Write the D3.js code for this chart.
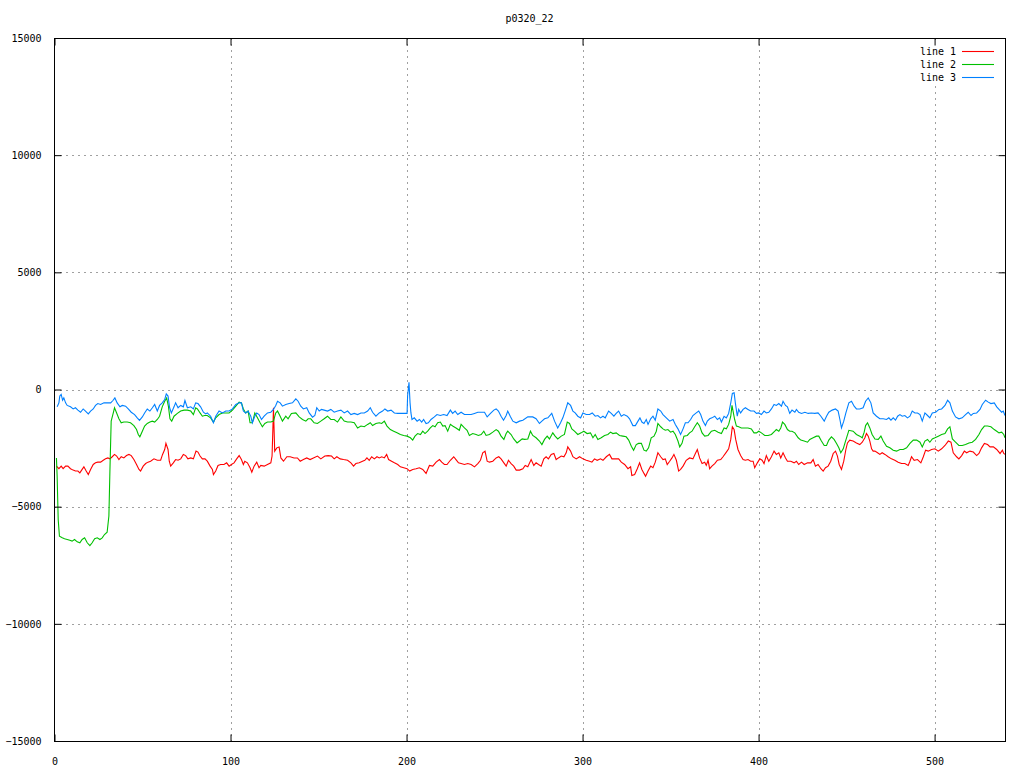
<!DOCTYPE html>
<html><head><meta charset="utf-8">
<script src="https://cdn.jsdelivr.net/npm/d3@7"></script>
<style>html,body{margin:0;padding:0;background:#fff;}svg{display:block;}</style>
</head><body>
<svg id="chart" width="1024" height="768"></svg>
<script>
const title = "p0320_22";
const seriesNames = ["line 1", "line 2", "line 3"];
const seriesColors = ["#ff0000", "#00c000", "#0080ff"];
const xTicks = [0, 100, 200, 300, 400, 500];
const yTicks = [-15000, -10000, -5000, 0, 5000, 10000, 15000];
const xDomain = [0, 540];
const yDomain = [-15000, 15000];

// line 1 (red)
const line1X = [1.1,2.5,3.8,4.9,6.3,7.6,9.1,10.6,11.9,13.3,14.4,15.7,16.7,18.0,19.2,20.5,22.0,23.3,24.6,26.2,27.7,29.0,30.3,31.5,32.8,34.1,35.3,36.6,37.9,39.4,40.9,42.3,43.6,45.1,46.6,48.0,48.9,50.4,51.8,53.1,54.6,56.5,58.4,60.3,61.4,62.6,63.3,64.5,65.2,66.0,67.5,68.8,70.2,71.7,73.2,74.5,75.8,77.4,78.9,80.4,81.5,82.7,84.0,85.5,
86.8,88.4,89.7,90.3,91.6,92.9,94.4,96.3,97.8,99.2,100.5,102.0,103.5,104.9,106.2,107.3,108.1,109.6,111.1,112.1,113.4,114.9,116.2,117.2,119.1,121.0,122.9,123.6,124.0,124.4,124.8,125.1,126.3,127.6,128.6,130.1,132.0,133.9,136.1,138.0,139.6,141.4,143.3,145.2,147.1,149.4,151.3,153.6,155.5,157.4,158.9,160.4,162.3,164.2,166.5,168.4,169.9,171.2,173.1,175.0,176.3,
177.5,178.8,180.2,181.7,183.2,184.5,185.9,187.4,188.7,189.8,191.5,193.1,195.0,196.5,198.4,200.3,201.8,203.5,205.4,207.3,209.2,211.1,213.0,214.9,216.8,218.7,220.0,221.5,223.0,224.9,226.8,228.1,229.5,231.0,232.9,234.8,236.7,238.6,240.5,242.0,243.3,244.6,245.8,247.1,249.0,250.9,252.4,253.7,255.3,256.6,257.9,259.4,260.9,262.3,264.2,266.1,267.4,
268.9,270.8,272.3,273.6,275.0,276.5,278.0,279.3,280.6,282.2,283.7,285.0,286.3,287.9,289.4,290.7,291.6,293.2,294.5,296.4,298.3,300.2,302.1,304.0,305.3,306.8,308.3,310.2,311.6,313.5,315.3,316.7,318.6,320.5,322.0,323.9,325.8,327.3,328.0,329.6,331.1,332.4,333.7,334.9,335.8,337.2,338.7,340.0,341.3,342.8,344.4,345.7,347.0,348.1,349.5,350.8,351.9,353.3,354.6,355.7,357.1,
358.9,360.8,362.7,364.1,365.2,366.5,367.9,369.4,370.3,371.3,372.2,373.5,375.1,376.6,378.5,379.8,381.7,383.0,384.2,385.1,386.1,387.0,388.3,389.8,391.2,392.5,394.0,395.5,396.9,397.8,399.3,400.7,402.0,403.1,404.4,405.8,407.3,408.8,410.1,411.5,412.6,413.9,415.3,416.4,418.3,420.2,421.5,422.8,424.4,425.9,427.8,429.7,431.0,432.3,433.8,435.4,436.7,438.0,439.5,441.0,442.4,443.7,444.8,445.8,447.1,448.4,449.6,
450.5,451.8,453.7,455.6,457.5,458.9,460.4,461.3,462.3,463.2,464.2,465.1,466.1,467.6,468.9,470.2,471.8,473.6,475.5,477.4,479.3,481.2,483.1,485.0,486.0,486.9,488.4,490.3,492.2,493.6,494.9,496.4,498.3,500.2,502.1,504.0,505.9,507.8,509.3,510.6,512.5,513.8,515.4,516.9,518.2,520.1,522.0,523.9,525.2,526.7,528.3,530.1,531.5,533.4,535.3,537.2,538.5,539.3,540.0];
const line1Y = [-3270,-3380,-3270,-3380,-3270,-3270,-3380,-3440,-3480,-3480,-3560,-3410,-3300,-3480,-3630,-3410,-3200,-3130,-3100,-3100,-3020,-2960,-2920,-2960,-2870,-2770,-2840,-2990,-2870,-2920,-2820,-2770,-2820,-2990,-3200,-3410,-3480,-3270,-3160,-3100,-3060,-2960,-3020,-3020,-2770,-2560,-2300,-2560,-3060,-3270,-3130,-2990,-3020,-2960,-2770,-2820,-2960,-2920,-2960,-2630,-2670,-2840,-2960,-2960,
-3060,-3270,-3410,-3630,-3480,-3240,-3200,-3200,-3130,-3270,-3200,-3130,-2960,-2820,-2990,-3200,-3060,-3130,-3340,-3530,-3270,-3100,-3340,-3240,-3270,-3200,-3130,-2840,-1850,-780,-1850,-2630,-2490,-2450,-2920,-3060,-2870,-2870,-2920,-2920,-3060,-2990,-2920,-2990,-2920,-2840,-2960,-2840,-2820,-2840,-2960,-2870,-2960,-2990,-3020,-3130,-3270,-3160,-3130,-3060,-3020,
-2920,-3020,-2870,-2960,-2870,-2920,-2870,-2920,-2770,-2990,-3060,-3130,-3200,-3300,-3340,-3380,-3480,-3410,-3380,-3340,-3410,-3580,-3240,-3270,-3100,-2990,-3100,-3200,-3200,-3020,-2870,-2990,-3130,-3160,-3200,-3160,-3200,-3300,-3160,-3020,-2700,-2630,-3060,-3100,-3060,-2920,-2870,-2960,-3130,-3270,-3020,-3160,-3270,-3440,-3440,-3380,-3240,
-3300,-2990,-3240,-3130,-3200,-3270,-2960,-2870,-2960,-2770,-2730,-2990,-2920,-2840,-2870,-2700,-2450,-2630,-2870,-2960,-2870,-2960,-3020,-3060,-3100,-2960,-3020,-2960,-3020,-2870,-2770,-2960,-2960,-2960,-3100,-3200,-3380,-3300,-3670,-3630,-3380,-3130,-3410,-3580,-3700,-3480,-3270,-3340,-3100,-2700,-2870,-2990,-2960,-3200,-3060,-2920,-2770,-3020,-3480,-3410,-3270,
-3020,-2920,-2960,-2730,-2560,-2920,-3160,-3100,-3240,-3020,-3380,-3270,-3160,-3020,-2990,-2870,-2670,-2530,-2130,-1590,-1710,-2130,-2560,-2820,-2990,-3020,-2990,-3060,-3060,-3340,-3130,-2960,-3020,-3160,-2820,-3060,-2870,-2630,-2770,-2700,-2920,-2700,-2920,-3060,-3060,-3130,-3060,-3200,-3100,-3200,-3130,-3130,-2990,-3270,-3200,-3380,-3480,-3340,-3270,-3060,-2730,-2630,-2840,-3200,-3410,-3060,-2560,
-2280,-2160,-2200,-2280,-2350,-2250,-2060,-1880,-1990,-2200,-2530,-2630,-2630,-2700,-2770,-2700,-2770,-2870,-2960,-3020,-3100,-3160,-3160,-3240,-3060,-2870,-3020,-2990,-3130,-2870,-2590,-2630,-2560,-2530,-2630,-2530,-2390,-2200,-2250,-2700,-2870,-2960,-2820,-2630,-2700,-2630,-2670,-2820,-2730,-2490,-2300,-2350,-2450,-2450,-2560,-2730,-2590,-2730,-2770];

// line 2 (green)
const line2X = [1.1,1.5,2.1,2.8,4.4,5.7,7.2,8.7,10.0,11.4,12.9,14.4,15.7,17.1,18.6,20.1,21.4,22.8,24.3,25.8,27.1,28.4,29.9,30.9,31.5,32.2,33.4,34.1,35.3,36.6,37.9,39.4,41.3,43.2,45.1,46.6,47.6,48.5,49.9,51.2,52.7,54.2,55.6,56.9,58.4,59.7,61.2,62.6,63.7,64.7,65.6,66.6,67.9,69.8,71.7,73.6,75.5,77.4,78.9,80.2,81.2,82.7,84.0,85.3,
86.8,88.7,90.3,91.6,93.5,95.4,97.3,99.2,101.1,103.0,104.9,106.2,107.3,108.6,110.0,111.1,112.4,113.8,115.3,116.8,118.1,119.5,121.0,122.9,124.4,125.7,126.7,128.2,129.5,131.4,132.7,134.6,137.1,139.0,140.9,142.8,144.1,145.6,147.5,149.4,151.3,153.2,155.1,157.0,158.9,160.8,162.7,164.6,166.5,168.4,170.3,172.2,174.1,176.0,
177.9,179.4,180.7,182.6,184.5,185.9,187.4,188.9,190.8,192.7,194.6,196.5,198.4,200.3,202.2,203.5,204.8,206.3,207.9,209.2,210.5,212.0,213.5,214.9,216.2,217.7,219.2,220.6,221.9,223.4,224.9,226.2,228.1,230.0,231.0,232.9,234.4,235.7,237.6,239.5,240.8,242.4,243.9,245.2,247.1,249.0,250.9,252.2,253.7,255.3,256.6,257.5,259.4,260.9,262.8,264.2,265.7,267.0,
268.9,270.4,271.7,273.6,275.5,276.9,278.4,279.9,281.2,283.1,284.4,285.9,287.9,289.7,291.3,292.6,293.9,295.4,297.3,299.2,300.7,302.6,304.5,305.9,307.2,308.7,310.6,312.5,314.4,315.9,317.2,319.1,321.0,322.9,324.8,326.2,327.7,329.0,330.5,331.8,333.4,334.9,336.2,337.5,339.0,340.6,341.9,342.8,344.4,345.7,347.0,348.5,350.0,351.4,352.7,354.2,355.2,356.5,357.6,
359.5,360.8,362.2,363.7,365.2,366.5,367.9,369.4,371.3,373.2,375.1,377.0,378.9,380.4,381.7,383.0,384.2,384.9,385.5,386.4,387.4,388.7,390.2,392.1,394.0,395.9,397.4,398.8,400.1,401.6,403.5,405.4,407.3,409.2,410.1,411.5,412.6,413.6,414.9,416.4,417.7,419.0,420.6,422.5,424.0,425.9,427.8,429.1,431.0,432.9,434.2,435.7,437.3,438.6,439.9,441.4,442.9,444.3,445.6,446.7,448.1,449.4,
451.3,453.7,455.6,457.5,458.9,460.0,460.8,461.9,463.2,464.5,466.1,468.0,469.5,470.8,472.7,474.6,476.5,478.4,480.3,482.2,484.1,486.0,487.9,489.8,491.7,493.0,494.5,496.0,497.3,498.7,500.2,502.1,504.0,505.9,507.4,508.7,510.1,511.9,513.8,515.7,517.6,519.5,521.4,523.3,525.2,526.7,528.3,530.1,532.0,533.9,535.3,536.6,538.1,539.3,540.0];
const line2Y = [-2920,-3700,-5550,-6260,-6330,-6370,-6400,-6430,-6470,-6400,-6500,-6540,-6400,-6330,-6540,-6660,-6540,-6370,-6330,-6400,-6330,-6190,-6090,-5400,-3410,-1350,-1000,-780,-1000,-1250,-1420,-1390,-1390,-1420,-1540,-1710,-1920,-2020,-1780,-1560,-1450,-1390,-1350,-1390,-1280,-1140,-740,-500,-360,-710,-1250,-1350,-1140,-1020,-920,-880,-880,-920,-1070,-780,-830,-1000,-1140,-1110,
-1110,-1210,-1390,-1210,-1070,-1000,-1000,-1000,-880,-710,-540,-570,-830,-1000,-920,-1420,-1420,-1000,-1210,-1420,-1590,-1450,-1390,-1390,-1350,-1000,-920,-1140,-1350,-1140,-1250,-1020,-1000,-1170,-1280,-1350,-1250,-1250,-1420,-1450,-1350,-1250,-1140,-1280,-1280,-1390,-1170,-1350,-1390,-1390,-1420,-1640,-1560,-1590,
-1490,-1420,-1540,-1450,-1420,-1450,-1350,-1560,-1710,-1780,-1850,-1920,-1960,-1990,-2060,-2160,-1990,-1880,-1920,-1780,-1880,-1780,-1640,-1540,-1590,-1420,-1390,-1560,-1540,-1780,-1490,-1560,-1640,-1740,-1490,-1640,-1740,-1960,-1880,-1920,-1960,-1920,-1780,-1960,-1920,-1820,-1710,-1780,-1990,-2130,-1880,-1780,-1920,-2110,-2280,-2200,-2110,-2130,
-2110,-1780,-1960,-2060,-2200,-2350,-2130,-1990,-2110,-1850,-1990,-2110,-1990,-1920,-1390,-1450,-1680,-1780,-1920,-1850,-1780,-1880,-1850,-2060,-1920,-2130,-2060,-1960,-1920,-1820,-1880,-1850,-1960,-1990,-2020,-2160,-2420,-2590,-2350,-2300,-2300,-2590,-2630,-2490,-2060,-1990,-1780,-1450,-1590,-1680,-1740,-1710,-1820,-1780,-1920,-2200,-2450,-2300,-1990,
-1960,-1850,-1780,-1590,-1420,-1560,-1850,-1990,-1960,-1780,-1740,-1820,-1880,-1640,-1680,-1490,-1140,-680,-920,-1280,-1560,-1590,-1640,-1640,-1640,-1680,-1850,-1850,-1780,-1850,-1960,-1960,-1920,-1780,-1710,-1780,-1640,-1390,-1490,-1710,-1780,-1780,-1850,-2060,-2160,-2200,-2250,-2130,-2060,-1990,-1990,-2200,-2390,-2390,-2160,-2020,-2130,-2300,-2490,-2700,-2530,-2200,
-1740,-1780,-1920,-1990,-2060,-1820,-1540,-1420,-1640,-1920,-2110,-2130,-1990,-2200,-2420,-2490,-2590,-2630,-2560,-2560,-2490,-2300,-2160,-2160,-2250,-2450,-2200,-2130,-2250,-2110,-2060,-1990,-1920,-1880,-1680,-1590,-2110,-2250,-2390,-2390,-2350,-2280,-2250,-2130,-1920,-1710,-1560,-1560,-1590,-1710,-1780,-1850,-1820,-1920,-2060];

// line 3 (blue)
const line3X = [1.5,2.5,3.0,3.8,4.6,5.3,6.3,7.2,9.1,10.6,11.9,13.3,14.8,16.3,17.6,19.2,20.5,22.0,23.3,24.6,26.2,28.1,30.0,31.9,33.2,34.3,35.6,37.2,38.5,40.4,41.9,43.6,45.5,47.0,48.3,49.9,51.2,52.7,54.2,55.6,56.9,58.4,59.7,61.2,62.6,63.5,64.5,65.4,66.4,67.9,68.8,70.2,71.7,73.2,74.1,75.5,77.4,78.9,80.2,81.5,83.0,84.6,85.9,
86.8,88.7,90.3,91.6,93.5,95.4,97.3,99.2,101.1,103.0,104.9,106.2,107.3,108.6,110.0,111.5,112.4,113.8,114.9,116.2,117.6,119.1,121.0,122.9,124.4,125.7,126.7,128.2,129.5,131.4,133.3,135.2,137.1,138.4,139.9,141.4,143.3,144.7,146.6,147.9,149.0,150.4,151.7,153.2,155.1,157.0,158.9,160.8,162.7,164.6,166.5,168.4,170.3,172.2,174.1,176.0,
177.9,179.4,180.7,182.6,184.5,186.4,187.7,189.3,191.2,193.1,195.0,196.9,198.7,200.3,200.6,201.4,202.0,202.5,203.1,204.4,206.0,207.3,208.6,209.7,211.1,212.4,213.9,215.8,217.3,219.2,221.1,223.0,224.9,226.2,227.6,229.1,231.0,232.9,234.8,236.7,238.6,240.5,242.4,244.3,245.8,247.7,249.6,250.9,252.2,253.7,255.1,256.6,257.5,258.9,260.4,262.3,264.2,266.1,
268.9,271.7,273.6,275.5,276.9,278.4,280.3,282.5,284.1,285.9,287.5,288.8,290.1,291.6,293.2,294.5,295.8,297.3,298.9,300.2,302.1,304.0,305.5,307.2,308.7,310.2,311.6,312.9,314.8,316.3,317.8,319.1,320.5,322.0,323.5,325.4,326.7,328.6,330.0,331.5,332.6,333.7,334.9,336.2,337.2,338.7,340.0,341.3,342.8,344.4,345.7,347.6,349.5,351.4,352.7,354.2,355.7,357.1,358.4,
359.9,361.4,362.7,364.6,366.0,367.1,368.4,369.8,370.9,372.2,373.5,375.1,376.6,377.9,378.9,380.4,381.7,383.0,384.2,385.1,386.1,386.8,387.9,388.7,389.8,391.2,392.5,394.0,395.5,397.4,398.8,400.1,401.6,403.1,404.4,405.8,407.3,408.8,410.1,411.5,413.0,413.9,415.3,416.4,417.7,419.0,420.6,421.5,422.8,424.4,426.3,428.2,430.0,431.9,433.8,435.4,437.3,438.6,439.9,441.8,443.7,445.2,446.2,447.1,448.4,449.6,
451.3,452.8,454.3,455.6,457.5,459.4,460.8,462.3,463.8,465.1,467.0,468.9,470.8,472.7,474.0,475.2,476.5,477.8,479.0,480.3,481.6,483.1,484.6,486.0,487.3,488.8,490.3,491.7,493.0,494.5,496.0,497.3,498.7,500.6,502.5,504.0,505.9,507.4,508.7,510.1,511.9,513.8,515.7,517.6,519.1,520.7,522.0,523.9,525.8,527.1,529.0,530.5,532.0,533.9,535.3,536.6,538.1,539.0,540.0];
const line3Y = [-740,-570,-280,-210,-460,-360,-570,-680,-740,-830,-780,-880,-970,-830,-920,-1040,-920,-830,-680,-600,-640,-570,-570,-570,-470,-360,-570,-740,-680,-710,-830,-970,-1070,-1210,-1320,-1170,-1000,-830,-920,-780,-640,-920,-680,-570,-430,-190,-280,-780,-1000,-740,-570,-780,-680,-740,-470,-780,-740,-830,-570,-600,-740,-970,-1040,
-1000,-1140,-1420,-1140,-920,-1000,-920,-920,-830,-640,-570,-570,-920,-1000,-920,-1140,-1420,-1140,-1000,-1070,-1280,-1140,-1000,-970,-850,-680,-500,-570,-710,-640,-600,-570,-400,-500,-710,-830,-780,-1000,-1180,-1110,-780,-920,-850,-880,-920,-850,-970,-920,-880,-1000,-920,-1070,-1020,-1070,-1000,-1000,
-920,-780,-970,-1140,-1000,-920,-830,-920,-880,-1000,-1020,-1020,-1020,-1020,-280,310,-570,-1000,-1280,-1210,-1350,-1280,-1390,-1280,-1450,-1420,-1280,-1170,-1070,-1110,-1070,-1110,-880,-1020,-920,-1070,-970,-1070,-1070,-1070,-1020,-970,-970,-970,-1170,-1020,-880,-830,-920,-1140,-1310,-1110,-920,-1140,-1350,-1420,-1350,-1310,
-1170,-1170,-1250,-1450,-1350,-1250,-1210,-1020,-1350,-1640,-1420,-1210,-920,-570,-680,-920,-1000,-1140,-1210,-1000,-1070,-1070,-1000,-1140,-1110,-1210,-1140,-1210,-920,-1020,-1140,-1020,-920,-1140,-1070,-1140,-1250,-1540,-1540,-1350,-1210,-1390,-1450,-1280,-1490,-1250,-1140,-1310,-830,-920,-1070,-1210,-1350,-1280,-1490,-1680,-1920,-1680,-1420,
-1420,-1280,-1110,-1000,-920,-1070,-1350,-1540,-1350,-1250,-1210,-1140,-1280,-1210,-1390,-1140,-1210,-1020,-570,-170,-140,-570,-1140,-850,-1000,-850,-780,-850,-920,-920,-1020,-1000,-1070,-920,-1000,-970,-830,-640,-680,-600,-710,-500,-680,-740,-1020,-880,-970,-850,-970,-1020,-970,-1020,-1000,-1020,-1000,-1140,-1350,-1140,-970,-880,-830,-920,-1280,-1640,-1350,-1000,
-570,-500,-710,-830,-830,-780,-500,-360,-570,-1000,-1140,-1250,-1250,-1280,-1210,-1310,-1210,-1310,-1140,-1070,-1140,-1110,-1210,-1140,-920,-1000,-1000,-1070,-1350,-1000,-1110,-1210,-1000,-970,-850,-830,-680,-460,-570,-920,-1170,-1250,-1210,-1070,-970,-1110,-1020,-1000,-850,-640,-460,-540,-600,-570,-740,-850,-970,-920,-1110];

const seriesX = [line1X, line2X, line3X];
const seriesY = [line1Y, line2Y, line3Y];

const svg = d3.select("#chart");
const W = 1024, H = 768;
const m = {left: 54, right: 1005, top: 38, bottom: 741};
const xs = d3.scaleLinear().domain(xDomain).range([m.left + 0.5, m.right]);
const ys = d3.scaleLinear().domain(yDomain).range([m.bottom, m.top]);
const font = "'DejaVu Sans Mono', monospace";

svg.append("rect").attr("width", W).attr("height", H).attr("fill", "#fff");

// grid
const grid = svg.append("g").attr("stroke", "#a0a0a0").attr("stroke-width", 1).attr("stroke-dasharray", "2,4");
xTicks.filter(t => t > xDomain[0] && t < xDomain[1]).forEach(t => {
  const px = Math.round(xs(t)) + 0.5;
  grid.append("line").attr("x1", px).attr("x2", px).attr("y1", m.top).attr("y2", m.bottom);
});
yTicks.filter(t => t > yDomain[0] && t < yDomain[1]).forEach(t => {
  const py = Math.round(ys(t)) + 0.5;
  grid.append("line").attr("x1", m.left).attr("x2", m.right).attr("y1", py).attr("y2", py);
});

// legend background (key area blanks the grid)
svg.append("rect").attr("x", 916).attr("y", 44).attr("width", 84).attr("height", 42).attr("fill", "#fff");

// data lines
const lineGen = d3.line().x(d => xs(d[0])).y(d => ys(d[1]));
seriesX.forEach((xa, i) => {
  const ya = seriesY[i];
  const n = Math.min(xa.length, ya.length);
  const pts = d3.range(n).map(j => [xa[j], ya[j]]);
  svg.append("path").datum(pts).attr("d", lineGen)
    .attr("fill", "none").attr("stroke", seriesColors[i]).attr("stroke-width", 1.1);
});

// axes with inward ticks on all four sides (gnuplot style)
const tl = 7;
const axL = svg.append("g").attr("transform", `translate(${m.left + 0.5},0)`)
  .call(d3.axisLeft(ys).tickValues(yTicks).tickSize(-tl).tickPadding(6 + tl).tickFormat(d3.format("d")));
const axR = svg.append("g").attr("transform", `translate(${m.right + 0.5},0)`)
  .call(d3.axisRight(ys).tickValues(yTicks).tickSize(-tl).tickFormat(""));
const axB = svg.append("g").attr("transform", `translate(0,${m.bottom + 0.5})`)
  .call(d3.axisBottom(xs).tickValues(xTicks).tickSize(-tl).tickPadding(9 + tl).tickFormat(d3.format("d")));
const axT = svg.append("g").attr("transform", `translate(0,${m.top + 0.5})`)
  .call(d3.axisTop(xs).tickValues(xTicks).tickSize(-tl).tickFormat(""));
[axL, axR, axB, axT].forEach(g => {
  g.selectAll(".domain").remove();
  g.selectAll(".tick line").attr("stroke", "#000");
  g.selectAll("text").attr("font-family", font).attr("font-size", 10).attr("fill", "#000");
});

// border
svg.append("rect").attr("x", m.left + 0.5).attr("y", m.top + 0.5)
  .attr("width", m.right - m.left).attr("height", m.bottom - m.top)
  .attr("fill", "none").attr("stroke", "#000").attr("stroke-width", 1);

// title
svg.append("text").attr("x", (m.left + m.right) / 2).attr("y", 22)
  .attr("text-anchor", "middle").attr("font-family", font).attr("font-size", 10)
  .text(title);

// legend
const leg = svg.append("g");
seriesNames.forEach((name, i) => {
  const ly = 51.5 + i * 13;
  leg.append("text").attr("x", 956).attr("y", ly + 3.5).attr("text-anchor", "end")
    .attr("font-family", font).attr("font-size", 10).text(name);
  leg.append("line").attr("x1", 962).attr("x2", 994).attr("y1", ly).attr("y2", ly)
    .attr("stroke", seriesColors[i]).attr("stroke-width", 1.1);
});
</script>
</body></html>
